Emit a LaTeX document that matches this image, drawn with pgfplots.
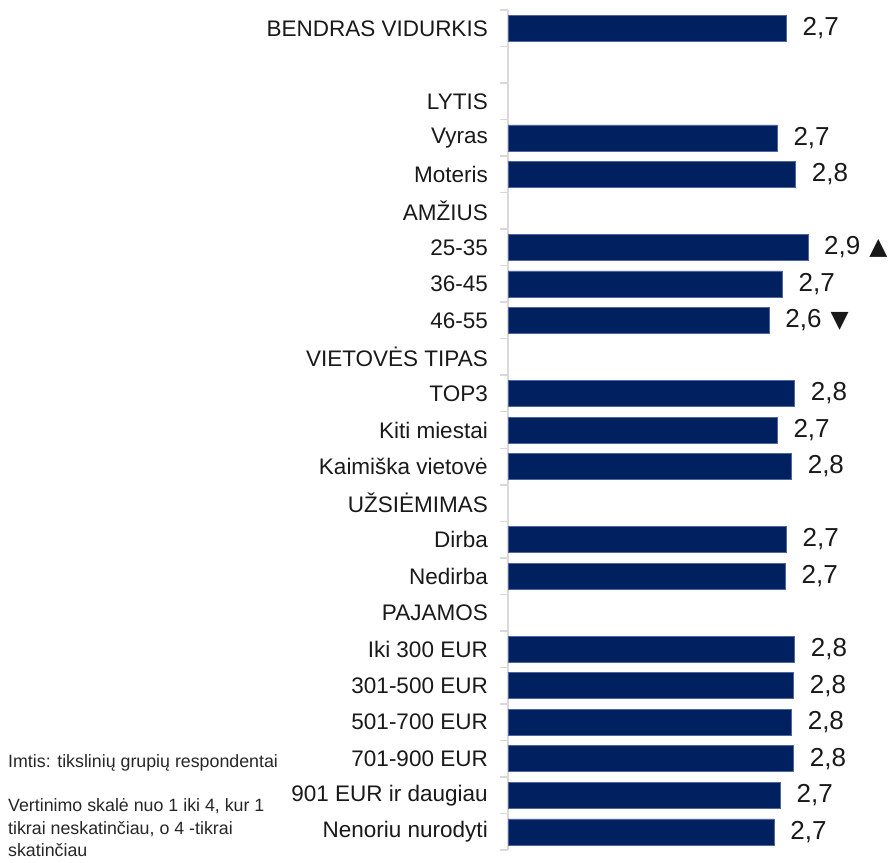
\documentclass[border=0pt]{standalone}
\usepackage{fontspec}
\setmainfont{Liberation Sans}
\newfontfamily\sym{DejaVu Sans}
\usepackage{pgfplots}
\usepackage{pgfplotstable}
\pgfplotsset{compat=1.18}
\definecolor{barblue}{RGB}{0,32,96}
\definecolor{baredge}{RGB}{80,100,160}
\definecolor{axisgrey}{RGB}{217,217,217}
\newcommand\up{\hspace{0.35em}{\sym\fontsize{23.5}{28}\selectfont ▲}}
\newcommand\down{\hspace{0.35em}{\sym\fontsize{23.5}{28}\selectfont ▼}}
\pgfplotstableread{
y x label
0 2.73 {2,7}
3 2.64 {2,7}
4 2.82 {2,8}
6 2.94 {2,9\up}
7 2.69 {2,7}
8 2.56 {2,6\down}
10 2.81 {2,8}
11 2.64 {2,7}
12 2.78 {2,8}
14 2.73 {2,7}
15 2.72 {2,7}
17 2.81 {2,8}
18 2.80 {2,8}
19 2.78 {2,8}
20 2.80 {2,8}
21 2.67 {2,7}
22 2.61 {2,7}
}\datatable
\begin{document}
\begin{tikzpicture}
\begin{axis}[
  at={(508pt,12pt)}, anchor=south west,
  scale only axis,
  width=377.4pt, height=840pt,
  xmin=0, xmax=3.7,
  ymin=-0.5, ymax=22.5,
  y dir=reverse,
  axis x line=none,
  axis y line*=left,
  axis line style={draw=axisgrey, line width=1.5pt},
  xtick=\empty,
  ytick={0,...,22},
  minor ytick={-0.5,0.5,...,22.5},
  major tick length=0pt,
  minor tick length=8pt,
  tick align=outside,
  minor tick style={draw=axisgrey, line width=1.5pt},
  yticklabels={{BENDRAS VIDURKIS},{},{LYTIS},{Vyras},{Moteris},{AMŽIUS},{25-35},{36-45},{46-55},{VIETOVĖS TIPAS},{TOP3},{Kiti miestai},{Kaimiška vietovė},{UŽSIĖMIMAS},{Dirba},{Nedirba},{PAJAMOS},{Iki 300 EUR},{301-500 EUR},{501-700 EUR},{701-900 EUR},{901 EUR ir daugiau},{Nenoriu nurodyti}},
  yticklabel style={font=\fontsize{22.5}{26}\selectfont, anchor=east, inner sep=0pt, xshift=-20pt, text=black!90},
  clip=false,
  xbar,
  bar width=26pt,
  nodes near coords={\pgfplotspointmeta},
  point meta=explicit symbolic,
  every node near coord/.append style={font=\fontsize{26}{29}\selectfont, anchor=west, inner sep=0pt, xshift=16pt, text=black!90},
]
\addplot[fill=barblue, draw=baredge, line width=0.5pt] table[x=x, y=y, meta=label] {\datatable};
\end{axis}
\node[anchor=base west, inner sep=0pt, font=\fontsize{17.8}{21}\selectfont, text=black!85] at (8pt,95pt) {Imtis: tikslinių grupių respondentai};
\node[anchor=base west, inner sep=0pt, font=\fontsize{17.8}{21}\selectfont, text=black!85] at (8pt,51pt) {Vertinimo skalė nuo 1 iki 4, kur 1};
\node[anchor=base west, inner sep=0pt, font=\fontsize{17.8}{21}\selectfont, text=black!85] at (8pt,28pt) {tikrai neskatinčiau, o 4 -tikrai};
\node[anchor=base west, inner sep=0pt, font=\fontsize{17.8}{21}\selectfont, text=black!85] at (8pt,6pt) {skatinčiau};
\pgfresetboundingbox
\useasboundingbox (0,0) rectangle (891pt,862pt);
\end{tikzpicture}
\end{document}
